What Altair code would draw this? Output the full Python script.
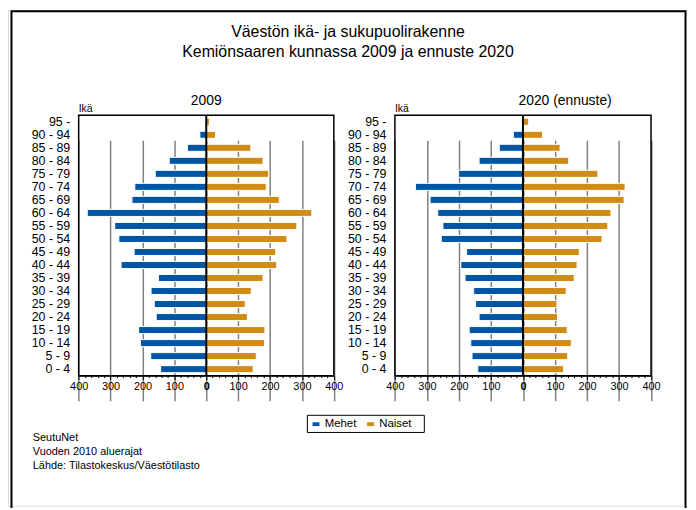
import altair as alt
import pandas as pd

ages = ["95 -", "90 - 94", "85 - 89", "80 - 84", "75 - 79", "70 - 74", "65 - 69",
        "60 - 64", "55 - 59", "50 - 54", "45 - 49", "40 - 44", "35 - 39", "30 - 34",
        "25 - 29", "20 - 24", "15 - 19", "10 - 14", "5 - 9", "0 - 4"]
men_2009 = [2, 20, 59, 116, 160, 224, 233, 373, 287, 274, 226, 267, 150, 173, 163, 157, 212, 206, 174, 143]
women_2009 = [10, 29, 140, 178, 196, 188, 229, 331, 284, 253, 218, 221, 178, 141, 122, 129, 184, 183, 157, 147]
men_2020 = [2, 30, 74, 137, 201, 336, 290, 266, 250, 255, 176, 194, 181, 154, 148, 137, 168, 163, 159, 141]
women_2020 = [18, 61, 116, 143, 234, 319, 316, 275, 265, 247, 176, 169, 160, 135, 106, 108, 138, 151, 140, 127]
sexes = ["Mehet", "Naiset"]
colors = ["#0055A5", "#D08C14"]
tick_values = list(range(-400, 401, 20))

W, H = 686, 500
FONT = "Liberation Sans"


def long_df(men, women):
    rows = []
    for a, m, w in zip(ages, men, women):
        rows.append({"age": a, "sex": "Mehet", "count": m})
        rows.append({"age": a, "sex": "Naiset", "count": w})
    return pd.DataFrame(rows)


def panel(df, x0, x1, y0, y1, legend):
    xscale = alt.Scale(domain=[-400, 400], range=[x0, x1])
    xaxis = alt.Axis(
        orient="bottom", offset=y1 - H, values=tick_values, title=None, grid=True,
        labelExpr="datum.value % 100 == 0 ? format(abs(datum.value), 'd') : ''",
        labelFontWeight={"condition": {"test": "datum.value == 0", "value": "bold"}, "value": "normal"},
        gridColor="#808080",
        gridOpacity={"condition": {"test": "datum.value % 100 != 0", "value": 0}, "value": 1},
        gridWidth=1.5,
        tickSize={"condition": {"test": "datum.value % 100 != 0", "value": 2}, "value": 4},
        tickColor="black", domainColor="black", labelColor="black",
        labelFontSize=11, labelPadding=1, labelOverlap=False, labelFlush=False, labelFont=FONT,
    )
    yaxis = alt.Axis(orient="left", offset=-x0, ticks=False, domain=False, grid=False, title=None,
                     labelFontSize=12.5, labelPadding=9, labelColor="black", labelFont=FONT)
    bars = alt.Chart(df).transform_calculate(
        value="datum.sex == 'Mehet' ? -datum.count : datum.count"
    ).mark_bar(stroke="white", strokeWidth=1).encode(
        x=alt.X("value:Q", scale=xscale, axis=xaxis),
        y=alt.Y("age:N", sort=ages,
                scale=alt.Scale(domain=ages, range=[y0, y1], paddingInner=0.46, paddingOuter=0.23),
                axis=yaxis),
        color=alt.Color("sex:N", scale=alt.Scale(domain=sexes, range=colors),
                        legend=legend),
    )
    one = alt.Data(values=[{"k": 1}])
    frame = alt.Chart(one).mark_rect(
        fill="transparent", stroke="black", strokeWidth=1.5
    ).encode(x=alt.X(datum=-400, axis=xaxis), x2=alt.datum(400),
             y=alt.value(y0), y2=alt.value(y1))
    zero = alt.Chart(one).mark_rule(color="black", strokeWidth=2).encode(
        x=alt.X(datum=0, axis=xaxis), y=alt.value(y0), y2=alt.value(y1)
    )
    return alt.layer(bars, zero, frame)


legend = alt.Legend(
    orient="none", legendX=302, legendY=408.5, direction="horizontal", title=None,
    symbolType="M-1,-0.55L1,-0.55L1,0.55L-1,0.55Z", symbolSize=49, symbolStrokeWidth=0,
    labelFontSize=11.5, labelFont=FONT, labelColor="black", labelOffset=3, columnPadding=8,
    padding=3,
)

left = panel(long_df(men_2009, women_2009), 71.3, 328.7, 106, 368.7, legend)
right = panel(long_df(men_2020, women_2020), 390.3, 648.7, 106, 368.7, None)

one = alt.Data(values=[{}])


def text(t, x, y, size, align="left", weight="normal"):
    return alt.Chart(one).mark_text(
        text=t, x=x, y=y, fontSize=size, align=align, baseline="alphabetic",
        font=FONT, color="black", fontWeight=weight,
    )


outer = alt.Chart(one).mark_rect(fillOpacity=0, stroke="black", strokeWidth=2).encode(
    x=alt.value(3.5), x2=alt.value(683.5), y=alt.value(1), y2=alt.value(H + 20)
)
legend_box = alt.Chart(one).mark_rect(fillOpacity=0, stroke="black", strokeWidth=1).encode(
    x=alt.value(302), x2=alt.value(420), y=alt.value(408.7), y2=alt.value(426)
)

texts = [
    text("Väestön ikä- ja sukupuolirakenne", 343, 27.5, 16, "center"),
    text("Kemiönsaaren kunnassa 2009 ja ennuste 2020", 343, 47.5, 16, "center"),
    text("2009", 200, 96, 14, "center"),
    text("2020 (ennuste)", 562, 96, 14, "center"),
    text("Ikä", 71.3, 102.5, 10.5),
    text("Ikä", 390.3, 102.5, 10.5),
    text("SeutuNet", 25, 434.3, 11),
    text("Vuoden 2010 aluerajat", 25, 448.6, 11),
    text("Lähde: Tilastokeskus/Väestötilasto", 25, 462.9, 11),
]

chart = alt.layer(outer, legend_box, left, right, *texts).resolve_scale(
    x="independent", y="independent", color="shared"
).properties(
    width=W, height=H, padding=0,
    autosize=alt.AutoSizeParams(type="none"),
).configure_view(stroke=None).configure(font=FONT, background="white")

chart.save("out.html", embed_options={"renderer": "svg", "actions": False})
